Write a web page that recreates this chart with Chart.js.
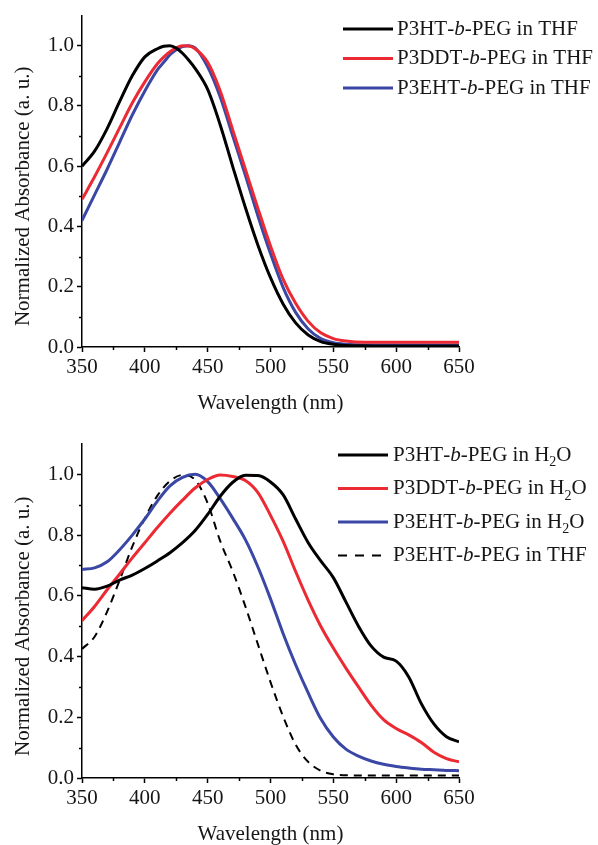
<!DOCTYPE html>
<html><head><meta charset="utf-8">
<script src="https://cdn.jsdelivr.net/npm/chart.js@4.4.1/dist/chart.umd.min.js"></script>
<style>
html,body{margin:0;padding:0;background:#fff;}
#wrap{position:relative;width:598px;height:845px;overflow:hidden;}
#c1{position:absolute;left:0;top:0;}
#c2{position:absolute;left:0;top:410px;}
</style></head><body>
<div id="wrap">
<canvas id="c1" width="598" height="420"></canvas>
<canvas id="c2" width="598" height="435"></canvas>
</div>
<script>
// ---------- data (top panel: THF solutions) ----------
const wlTop = [350,360,370,380,390,400,410,415,420,425,430,435,440,450,460,470,480,490,500,510,520,530,540,550,560,575,600,625,650];
const p3htTHF  = [0.60,0.65,0.725,0.815,0.90,0.963,0.99,0.998,1.0,0.992,0.975,0.952,0.925,0.855,0.737,0.598,0.463,0.338,0.23,0.143,0.08,0.04,0.018,0.009,0.005,0.004,0.003,0.003,0.003];
const p3ddtTHF = [0.49,0.565,0.645,0.728,0.81,0.88,0.94,0.962,0.98,0.993,1.0,0.999,0.99,0.945,0.85,0.72,0.59,0.46,0.335,0.225,0.145,0.085,0.047,0.028,0.02,0.016,0.016,0.016,0.016];
const p3ehtTHF = [0.42,0.505,0.59,0.68,0.77,0.85,0.92,0.945,0.97,0.987,0.997,1.0,0.993,0.93,0.83,0.70,0.57,0.435,0.31,0.198,0.115,0.06,0.028,0.014,0.009,0.007,0.007,0.007,0.007];
const labelsTop = ['P3HT-b-PEG in THF','P3DDT-b-PEG in THF','P3EHT-b-PEG in THF'];

// ---------- data (bottom panel: H2O vs THF) ----------
const wlBot = [350,360,370,380,390,400,410,420,430,440,450,460,470,480,490,500,510,520,530,540,550,560,570,580,590,600,610,620,630,640,650];
const p3htH2O  = [0.627,0.622,0.632,0.652,0.668,0.69,0.715,0.742,0.775,0.815,0.868,0.928,0.974,0.997,0.996,0.975,0.933,0.853,0.775,0.715,0.66,0.58,0.50,0.435,0.398,0.385,0.333,0.245,0.178,0.136,0.119];
const p3ddtH2O = [0.518,0.565,0.62,0.672,0.725,0.775,0.825,0.872,0.915,0.955,0.983,0.998,0.993,0.98,0.94,0.865,0.78,0.68,0.585,0.50,0.428,0.362,0.30,0.24,0.192,0.163,0.142,0.117,0.085,0.064,0.053];
const p3ehtH2O = [0.687,0.692,0.712,0.752,0.80,0.853,0.912,0.962,0.99,1.0,0.976,0.92,0.855,0.785,0.695,0.59,0.476,0.373,0.28,0.195,0.135,0.095,0.072,0.056,0.045,0.038,0.033,0.029,0.027,0.025,0.024];
const wlDash = [350,360,370,380,390,400,410,420,430,440,450,460,470,480,490,500,510,520,530,540,550,560,575,600,625,650];
const p3ehtTHFref = [0.425,0.465,0.548,0.652,0.762,0.855,0.93,0.978,0.998,0.982,0.905,0.78,0.68,0.565,0.44,0.316,0.203,0.11,0.053,0.024,0.012,0.009,0.008,0.008,0.008,0.008];
const labelsBot = ['P3HT-b-PEG in H2O','P3DDT-b-PEG in H2O','P3EHT-b-PEG in H2O','P3EHT-b-PEG in THF'];

const xTickStep = 50, yTickStep = 0.2;
const xTitle = 'Wavelength (nm)';
const yTitleText = 'Normalized Absorbance (a. u.)';

// ---------- styling ----------
const SERIF = '"Liberation Serif", "Times New Roman", serif';
const BLACK = '#000000', RED = '#ec2a33', BLUE = '#3a47a5';
const TXT = '#161616';

function pts(xs, ys){ return xs.map((x,i)=>({x:x, y:ys[i]})); }

function drawRichLabel(ctx, text, x, y, size){
  const parts = text.split(/(-b-|H2O)/).filter(s => s.length);
  ctx.textAlign = 'left'; ctx.textBaseline = 'middle';
  const normal = size + 'px ' + SERIF, ital = 'italic ' + size + 'px ' + SERIF, sub = Math.round(size*0.66) + 'px ' + SERIF;
  const put = (s, f, dy) => { ctx.font = f; ctx.fillText(s, x, y + (dy||0)); x += ctx.measureText(s).width; };
  for (const p of parts){
    if (p === '-b-'){ put('-', normal); put('b', ital); put('-', normal); }
    else if (p === 'H2O'){ put('H', normal); put('2', sub, size*0.36); put('O', normal); }
    else put(p, normal);
  }
}

const richLegend = {
  id: 'richLegend',
  afterDraw(chart, args, o){
    const ctx = chart.ctx;
    ctx.save();
    chart.data.datasets.forEach((ds, i) => {
      const y = o.y + i*o.dy;
      ctx.beginPath();
      ctx.strokeStyle = ds.borderColor;
      ctx.lineWidth = ds.borderWidth;
      ctx.setLineDash(ds.borderDash ? o.dash : []);
      ctx.moveTo(o.x, y); ctx.lineTo(o.x + o.len, y); ctx.stroke();
      ctx.setLineDash([]);
      ctx.fillStyle = TXT;
      drawRichLabel(ctx, ds.label, o.x + o.len + o.gap, y, o.size);
    });
    ctx.restore();
  }
};

const minorTicks = {
  id: 'minorTicks',
  afterDraw(chart, args, o){
    const {ctx} = chart; const xs = chart.scales.x, ys = chart.scales.y;
    ctx.save(); ctx.strokeStyle = '#000'; ctx.lineWidth = 1.5;
    ctx.beginPath();
    for (let v = xs.min + xTickStep/2; v < xs.max; v += xTickStep){
      const px = Math.round(xs.getPixelForValue(v)) + 0.5;
      ctx.moveTo(px, xs.top); ctx.lineTo(px, xs.top + o.len);
    }
    for (let v = yTickStep/2; v < 1.05; v += yTickStep){
      const py = Math.round(ys.getPixelForValue(v)) + 0.5;
      ctx.moveTo(ys.right, py); ctx.lineTo(ys.right - o.len, py);
    }
    ctx.stroke(); ctx.restore();
  }
};

const yTitle = {
  id: 'yTitle',
  afterDraw(chart, args, o){
    const {ctx} = chart; const ys = chart.scales.y;
    ctx.save();
    ctx.translate(o.x, ys.getPixelForValue(o.center));
    ctx.rotate(-Math.PI/2);
    ctx.font = o.size + 'px ' + SERIF; ctx.fillStyle = TXT;
    ctx.textAlign = 'center'; ctx.textBaseline = 'middle';
    ctx.fillText(yTitleText, 0, 0);
    ctx.restore();
  }
};

function makeOptions(cfg){
  const tickFont = {family: SERIF, size: 21};
  return {
    responsive: false, animation: false, devicePixelRatio: 1,
    layout: {padding: {top: cfg.top, right: 139, left: 0, bottom: 0}},
    elements: {point: {radius: 0, hoverRadius: 0}, line: {cubicInterpolationMode: 'monotone', fill: false}},
    plugins: {
      legend: {display: false}, tooltip: {enabled: false},
      richLegend: cfg.legend,
      minorTicks: {len: 3},
      yTitle: {x: 23, center: 0.5, size: 21}
    },
    scales: {
      x: {
        type: 'linear', min: 350, max: 650,
        afterFit(s){ s.height = cfg.xh; },
        ticks: {stepSize: xTickStep, font: tickFont, color: TXT, padding: cfg.xpad, maxRotation: 0, autoSkip: false},
        grid: {drawOnChartArea: false, tickLength: 5, tickWidth: 1.5, color: '#000'},
        border: {color: '#000', width: 1.5},
        title: {display: true, text: xTitle, color: TXT, font: {family: SERIF, size: 21, lineHeight: 1}, padding: {top: 0, bottom: cfg.tpb}}
      },
      y: {
        type: 'linear', min: 0, max: 1.1,
        afterFit(s){ s.width = 82; },
        ticks: {stepSize: yTickStep, includeBounds: false, font: tickFont, color: TXT, padding: 3, callback: v => v.toFixed(1)},
        grid: {drawOnChartArea: false, tickLength: 5, tickWidth: 1.5, color: '#000'},
        border: {color: '#000', width: 1.5}
      }
    }
  };
}

new Chart(document.getElementById('c1'), {
  type: 'line',
  data: {datasets: [
    {label: labelsTop[0], data: pts(wlTop, p3htTHF),  borderColor: BLACK, borderWidth: 3},
    {label: labelsTop[1], data: pts(wlTop, p3ddtTHF), borderColor: RED,   borderWidth: 3},
    {label: labelsTop[2], data: pts(wlTop, p3ehtTHF), borderColor: BLUE,  borderWidth: 3}
  ]},
  options: makeOptions({top: 13, xh: 73, xpad: 3, tpb: 6, legend: {x: 343, y: 29, dy: 29.5, len: 50, gap: 4, size: 21, dash: [9, 8]}}),
  plugins: [richLegend, minorTicks, yTitle]
});

new Chart(document.getElementById('c2'), {
  type: 'line',
  data: {datasets: [
    {label: labelsBot[0], data: pts(wlBot, p3htH2O),  borderColor: BLACK, borderWidth: 3},
    {label: labelsBot[1], data: pts(wlBot, p3ddtH2O), borderColor: RED,   borderWidth: 3},
    {label: labelsBot[2], data: pts(wlBot, p3ehtH2O), borderColor: BLUE,  borderWidth: 3},
    {label: labelsBot[3], data: pts(wlDash, p3ehtTHFref), borderColor: BLACK, borderWidth: 2, borderDash: [8, 6]}
  ]},
  options: makeOptions({top: 34, xh: 67, xpad: 3, tpb: 0, legend: {x: 338, y: 45, dy: 33.5, len: 50, gap: 5, size: 21, dash: [9, 8]}}),
  plugins: [richLegend, minorTicks, yTitle]
});
</script>
</body></html>
